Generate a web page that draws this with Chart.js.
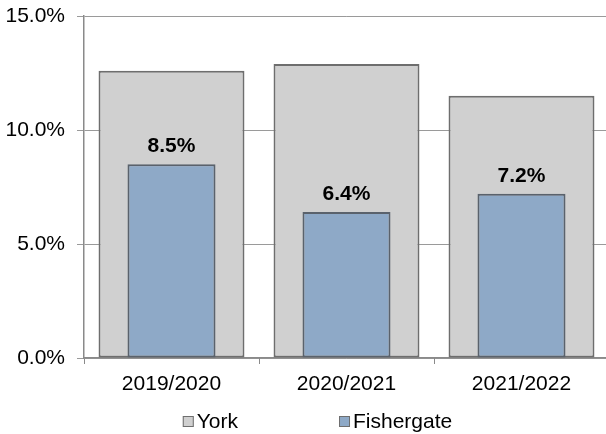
<!DOCTYPE html>
<html>
<head>
<meta charset="utf-8">
<script src="https://cdn.jsdelivr.net/npm/chart.js@4.4.0/dist/chart.umd.min.js"></script>
<style>
  html, body { margin: 0; padding: 0; background: #fff; overflow: hidden; }
  #wrap { width: 612px; height: 434px; }
</style>
</head>
<body>
<div id="wrap"><canvas id="chart" width="612" height="434"></canvas></div>
<script>
// Chart data
const categories = ["2019/2020", "2020/2021", "2021/2022"];
const yorkValues = [12.6, 12.9, 11.5];
const fishergateValues = [8.5, 6.4, 7.2];
const yTicks = [0, 5, 10, 15];

const FONT = "'Liberation Sans', Arial, sans-serif";
const FONT_SIZE = 21;

// value labels above the Fishergate bars
const valueLabels = {
  id: "valueLabels",
  afterDraw(chart) {
    const meta = chart.getDatasetMeta(1);
    const ctx = chart.ctx;
    ctx.save();
    ctx.font = "bold " + FONT_SIZE + "px " + FONT;
    ctx.fillStyle = "#000";
    ctx.textAlign = "center";
    ctx.textBaseline = "middle";
    meta.data.forEach((bar, i) => {
      ctx.fillText(fishergateValues[i].toFixed(1) + "%", bar.x, bar.y - 18);
    });
    ctx.restore();
  },
};

// Excel-like legend: small square, tight gap to text, wide gap between items
const bottomLegend = {
  id: "bottomLegend",
  afterDraw(chart) {
    const ctx = chart.ctx;
    const box = 11, gap = 3, spacing = 101, centerX = 317.5, y = 421.5;
    ctx.save();
    ctx.font = FONT_SIZE + "px " + FONT;
    const datasets = chart.data.datasets;
    const widths = datasets.map((ds) => box + gap + ctx.measureText(ds.label).width);
    let x = centerX - (widths.reduce((a, b) => a + b, 0) + spacing * (widths.length - 1)) / 2;
    datasets.forEach((ds, i) => {
      ctx.fillStyle = ds.backgroundColor;
      ctx.fillRect(x, y - box / 2, box, box);
      ctx.strokeStyle = "#6e6e6e";
      ctx.lineWidth = 1;
      ctx.strokeRect(x + 0.5, y - box / 2 + 0.5, box - 1, box - 1);
      ctx.fillStyle = "#000";
      ctx.textAlign = "left";
      ctx.textBaseline = "middle";
      ctx.fillText(ds.label, x + box + gap, y + 1);
      x += widths[i] + spacing;
    });
    ctx.restore();
  },
};

const ctx = document.getElementById("chart").getContext("2d");

new Chart(ctx, {
  type: "bar",
  data: {
    labels: categories,
    datasets: [
      {
        label: "York",
        data: yorkValues,
        backgroundColor: "#d0d0d0",
        borderColor: "#6e6e6e",
        borderWidth: 2,
        borderSkipped: false,
        barPercentage: 0.834,
        categoryPercentage: 1,
        grouped: false,
        order: 1,
      },
      {
        label: "Fishergate",
        data: fishergateValues,
        backgroundColor: "#8ea9c7",
        borderColor: "#5a626c",
        borderWidth: 2,
        borderSkipped: false,
        barPercentage: 0.503,
        categoryPercentage: 1,
        grouped: false,
        order: 0,
      },
    ],
  },
  options: {
    responsive: false,
    animation: false,
    layout: { padding: { top: 16, right: 3, left: 0, bottom: 0 } },
    plugins: {
      legend: { display: false },
      tooltip: { enabled: false },
    },
    scales: {
      x: {
        offset: true,
        z: 1,
        afterFit: (s) => {
          s.height = 76;
          s.paddingLeft = 0;
          s.paddingRight = 0;
        },
        grid: {
          offset: true,
          drawOnChartArea: false,
          drawTicks: true,
          tickLength: 6,
          color: "#8a8a8a",
        },
        border: { color: "#8a8a8a", width: 1.5 },
        ticks: {
          color: "#000",
          padding: 8,
          font: { family: FONT, size: FONT_SIZE },
          maxRotation: 0,
        },
      },
      y: {
        min: 0,
        max: 15,
        z: 1,
        afterFit: (s) => {
          s.width = 84;
          s.paddingTop = 0;
          s.paddingBottom = 0;
        },
        afterBuildTicks: (s) => { s.ticks = yTicks.map((v) => ({ value: v })); },
        grid: {
          color: "rgba(100,100,100,0.65)",
          lineWidth: 1,
          tickLength: 7,
        },
        border: { color: "#8a8a8a", width: 1.5 },
        ticks: {
          color: "#000",
          padding: 12,
          font: { family: FONT, size: FONT_SIZE },
          callback: (v) => v.toFixed(1) + "%",
        },
      },
    },
  },
  plugins: [valueLabels, bottomLegend],
});
</script>
</body>
</html>
